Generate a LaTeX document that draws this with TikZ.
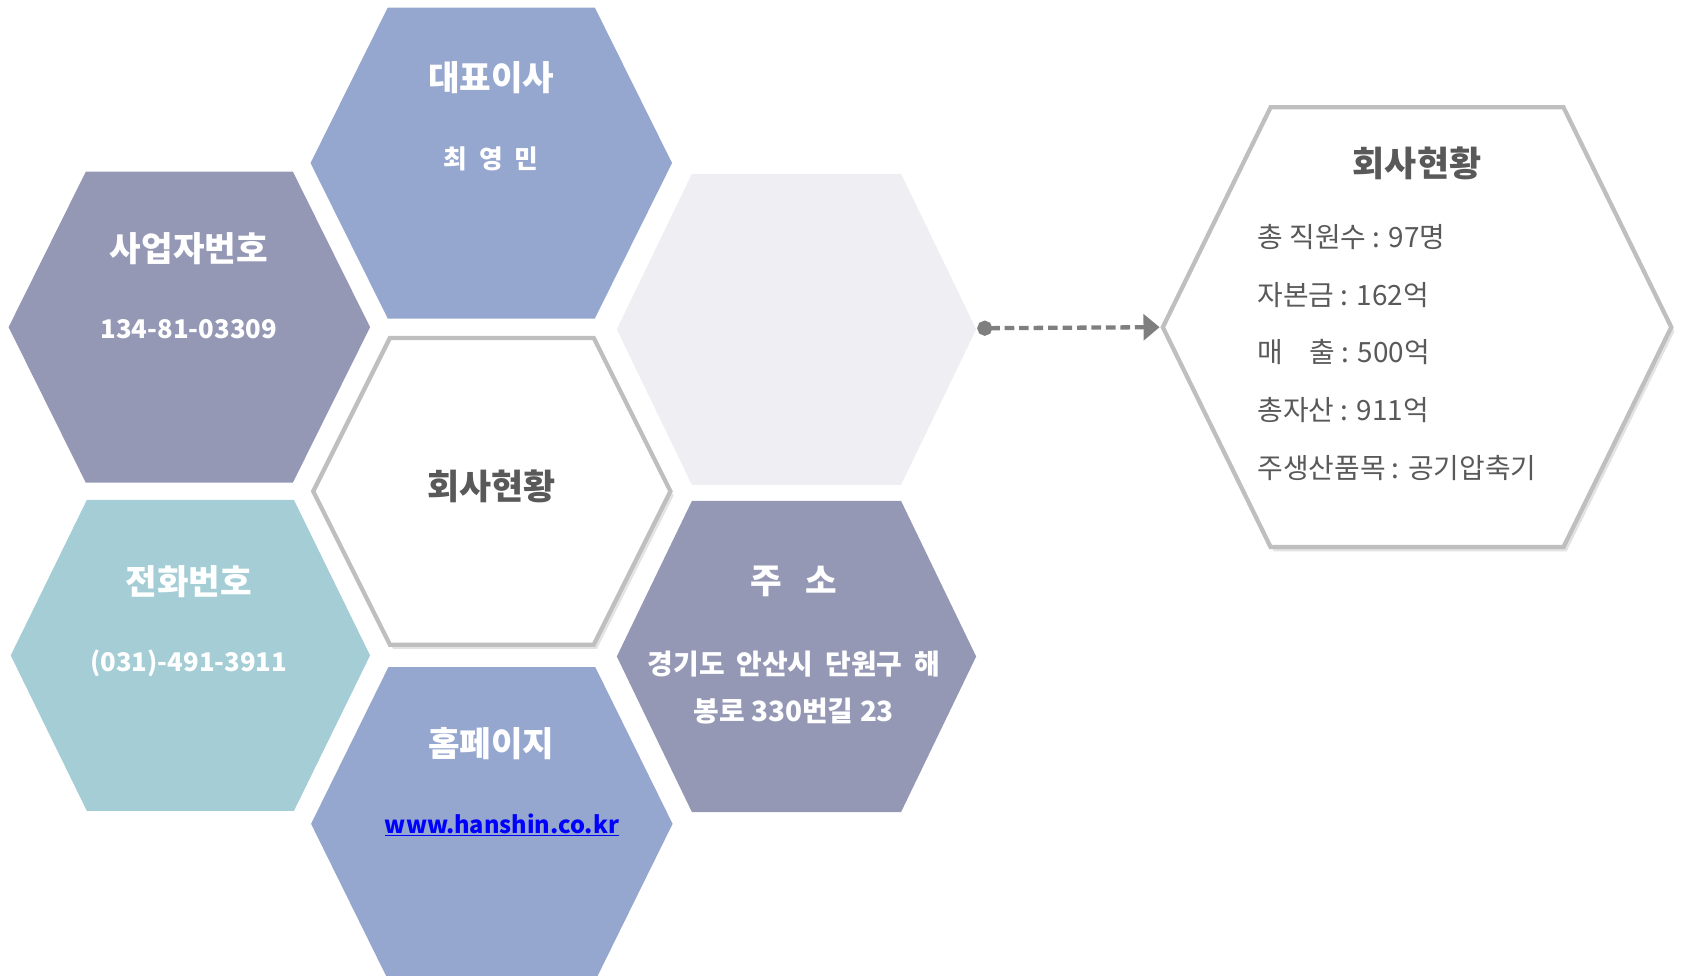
\documentclass[tikz,border=0pt]{standalone}
\usepackage{fontspec}
\setmainfont{Noto Sans CJK KR}
\usetikzlibrary{shadows,arrows.meta}
\definecolor{hexblue}{RGB}{149,167,207}
\definecolor{hexgray}{RGB}{148,152,181}
\definecolor{hexteal}{RGB}{164,205,213}
\definecolor{hexlight}{RGB}{238,238,243}
\definecolor{hexline}{RGB}{191,191,191}
\definecolor{txtdark}{RGB}{89,89,89}
\definecolor{arrowgray}{RGB}{127,127,127}
\definecolor{linkblue}{RGB}{0,0,255}
% hexagon path: centre x, centre y, half width, half top edge, half height
\newcommand\hexpath[5]{({#1-#3},#2) -- ({#1-#4},{#2-#5}) -- ({#1+#4},{#2-#5}) -- ({#1+#3},#2) -- ({#1+#4},{#2+#5}) -- ({#1-#4},{#2+#5}) -- cycle}
\begin{document}
\begin{tikzpicture}[x=1pt,y=-1pt,
  frame/.style={fill=white,draw=hexline,line width=4pt,line join=miter,
    drop shadow={opacity=0.22,shadow xshift=3pt,shadow yshift=-4pt}},
  wtitle/.style={text=white,font=\bfseries\fontsize{32}{38}\selectfont},
  wsub/.style={text=white,font=\bfseries\fontsize{24}{29}\selectfont},
  wkor/.style={text=white,font=\bfseries\fontsize{26}{31}\selectfont},
  dtitle/.style={text=txtdark,font=\bfseries\fontsize{32.5}{38}\selectfont},
  item/.style={text=txtdark,font=\fontsize{26}{31}\selectfont,anchor=west,inner sep=0pt},
  link/.style={text=linkblue,font=\bfseries\fontsize{22}{27}\selectfont},
  conn/.style={draw=arrowgray,line width=4pt,dash pattern=on 9pt off 4.5pt,
    {Circle[length=14pt]}-{Triangle[length=15pt,width=24pt]}}
]
\useasboundingbox (0,0) rectangle (1568,909);
% hexagons
\fill[hexblue] \hexpath{458}{152}{168.5}{96.5}{145};
\fill[hexgray] \hexpath{176.5}{305}{168.5}{96.5}{145};
\fill[hexlight] \hexpath{742.5}{307}{167.5}{97.5}{145};
\fill[hexteal] \hexpath{177.5}{611}{167.5}{96.5}{145};
\fill[hexgray] \hexpath{742.5}{612}{167.5}{97.5}{145};
\fill[hexblue] \hexpath{458.5}{768}{168.5}{96.5}{146};
\path[frame] \hexpath{458.5}{458}{166.5}{95}{143};
\path[frame] \hexpath{1321}{305}{237}{136.5}{205};
% connector ends
\coordinate (lhR) at (911,306);
\coordinate (bhL) at (1081,305);
\draw[conn] (lhR) -- (bhL);
% texts
\node[wtitle] (ceoT) at (458,72) {대표이사};
\node[wsub] (ceoV) at (458,148) {최\hspace{11pt}영\hspace{11pt}민};
\node[wtitle] (bizT) at (176,232) {사업자번호};
\node[wsub] (bizV) at (176,307) {134-81-03309};
\node[dtitle] (ctr) at (458,453) {회사현황};
\node[wtitle] (telT) at (176,542) {전화번호};
\node[wsub] (telV) at (176,618) {(031)-491-3911};
\node[wtitle] (adrT) at (740,542) {주\hspace{22pt}소};
\node[wkor] (adr1) at (740,619) {경기도\hspace{11pt}안산시\hspace{11pt}단원구\hspace{11pt}해};
\node[wkor] (adr2) at (740,663) {봉로 330번길 23};
\node[wtitle] (webT) at (458,693) {홈페이지};
\node[link] (webV) at (468,769) {\underline{www.hanshin.co.kr}};
\node[dtitle] (infoT) at (1321,152) {회사현황};
\node[item] (i1) at (1172,221) {총 직원수 : 97명};
\node[item] (i2) at (1172,275) {자본금 : 162억};
\node[item] (i3) at (1172,328) {매\hspace{25pt}출 : 500억};
\node[item] (i4) at (1172,382) {총자산 : 911억};
\node[item] (i5) at (1172,436) {주생산품목 : 공기압축기};
\end{tikzpicture}
\end{document}
